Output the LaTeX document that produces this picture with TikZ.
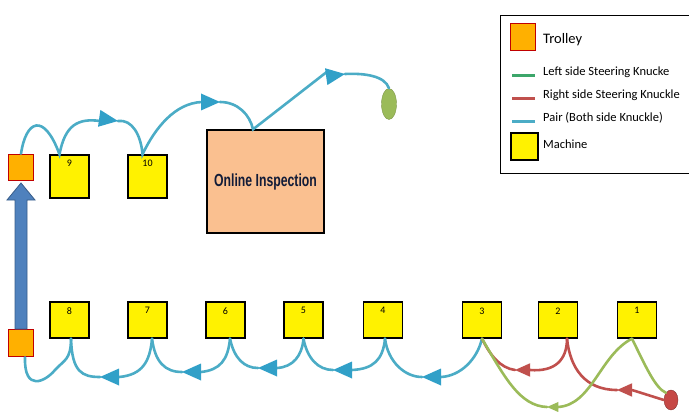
\documentclass[tikz,border=0pt]{standalone}
\usepackage{fontspec}
\setmainfont{Carlito}
\newfontfamily\inspfont{Liberation Sans}
\usetikzlibrary{shapes.geometric}
\definecolor{pairc}{HTML}{4BACC6}
\definecolor{pairarr}{HTML}{31A0C8}
\definecolor{rightc}{HTML}{C0504D}
\definecolor{leftc}{HTML}{9BBB59}
\definecolor{legleft}{HTML}{3CA66A}
\definecolor{trolfill}{HTML}{FFB000}
\definecolor{trolborder}{HTML}{C00000}
\definecolor{bigarrow}{HTML}{4F81BD}
\definecolor{bigarrowd}{HTML}{385D8A}
\definecolor{inspfill}{HTML}{FAC090}
\definecolor{insptext}{HTML}{121C38}
\tikzset{
  machine/.style={draw=black, line width=1.3pt, fill=yellow, minimum width=39pt, minimum height=#1, inner sep=0pt},
  mlabel/.style={font=\fontsize{10}{11}\selectfont, anchor=north, inner sep=2pt},
  trolley/.style={draw=trolborder, line width=1.6pt, fill=trolfill, minimum width=25pt, minimum height=26pt, inner sep=0pt},
  pairline/.style={draw=pairc, line width=2.6pt, line cap=round},
  rightline/.style={draw=rightc, line width=2.6pt, line cap=round},
  leftline/.style={draw=leftc, line width=2.6pt, line cap=round},
  pics/tri/.style={code={\fill[#1] (0,0) -- (-19,-8.5) -- (-19,8.5) -- cycle;}},
  legtext/.style={anchor=west, inner sep=0pt, font=\fontsize{12.5}{14}\selectfont},
}
\begin{document}
\begin{tikzpicture}[x=1pt, y=-1pt]
\useasboundingbox (0,0) rectangle (689,412);
\begin{scope}
\clip (0,0) rectangle (689,412);

% trolleys
\node[trolley] (ttop) at (21,167.5) {};
\node[trolley, minimum height=27pt] (tbot) at (21,343) {};
% big blue arrow
\filldraw[fill=bigarrow, draw=bigarrowd, line width=0.8pt]
  (15,329) -- (15,200) -- (7,200) -- (21,183) -- (35,200) -- (27,200) -- (27,329) -- cycle;

% machines bottom row
\node[machine=36pt] (m8) at (69.5,320) {};
\node[machine=36pt] (m7) at (147.5,320) {};
\node[machine=36pt] (m6) at (225.5,320) {};
\node[machine=36pt] (m5) at (303.5,320) {};
\node[machine=36pt] (m4) at (383,320) {};
\node[machine=36pt] (m3) at (482,320) {};
\node[machine=36pt] (m2) at (558,320) {};
\node[machine=36pt] (m1) at (637,320) {};
\foreach \m/\t in {m8/8,m7/7,m6/6,m5/5,m4/4,m3/3,m2/2,m1/1}
  \node[mlabel] at ([yshift=-4pt]\m.north) {\t};
% machines top row
\node[machine=43pt] (m9) at (69.5,176.5) {};
\node[machine=43pt] (m10) at (147.5,176.5) {};
\node[mlabel] at ([yshift=-3pt]m9.north) {9};
\node[mlabel] at ([yshift=-3pt]m10.north) {10};

% inspection
\node[draw=black, line width=1.3pt, fill=inspfill, minimum width=117pt, minimum height=103pt, inner sep=0pt] (insp) at (265.5,181.5)
  {\scalebox{0.7}[1]{\inspfont\bfseries\fontsize{17.5}{19}\selectfont\color{insptext}Online Inspection}};

% end ellipse
\node[ellipse, fill=leftc, draw=leftc!80!black, line width=0.4pt, minimum width=15pt, minimum height=31pt, inner sep=0pt] (endp) at (389,104) {};
% start circle
\node[ellipse, fill=rightc!90!red, draw=rightc!70!black, line width=0.4pt, minimum width=14pt, minimum height=20pt, inner sep=0pt] (startp) at (671,400) {};

% ---- top pair path ----
\coordinate (ta1) at (118,121);
\coordinate (ta2) at (220,102);
\coordinate (ta3) at (345,74);
\path[pairline] (ttop.north) .. controls (26,120) and (44,112) .. ([xshift=-10pt]m9.north)
  .. controls (65,125) and (78,118) .. ([xshift=-18pt]ta1);
\path[pairline] (ta1) .. controls (132,119) and (141,135) .. ([xshift=-5pt]m10.north)
  .. controls (155,128) and (175,103) .. ([xshift=-18pt]ta2);
\path[pairline] (ta2) .. controls (238,102) and (250,115) .. ([xshift=-12.5pt]insp.north)
  -- ([xshift=-17pt,yshift=3pt]ta3);
\path[pairline] (ta3) .. controls (365,73) and (385,76) .. (endp.north);
\pic[rotate=-8] at (ta1) {tri=pairarr};
\pic[rotate=0] at (ta2) {tri=pairarr};
\pic[rotate=8] at (ta3) {tri=pairarr};

% ---- bottom pair path ----
\coordinate (ba1) at (100,377);
\coordinate (ba2) at (182,372);
\coordinate (ba3) at (258,368);
\coordinate (ba4) at (333,370);
\coordinate (ba5) at (422,377);
\path[pairline] ([xshift=4pt]tbot.south) .. controls (24,392) and (45,382) .. (55,370)
  .. controls (64,360) and (71,360) .. ([xshift=1.5pt]m8.south);
\path[pairline] ([xshift=1.5pt]m8.south) .. controls (72,372) and (82,377) .. (ba1);
\path[pairline] ([xshift=19pt]ba1) .. controls (142,375) and (150,362) .. ([xshift=4.5pt]m7.south);
\path[pairline] ([xshift=4.5pt]m7.south) .. controls (155,362) and (165,372) .. (ba2);
\path[pairline] ([xshift=19pt]ba2) .. controls (220,370) and (228,360) .. ([xshift=4.5pt]m6.south);
\path[pairline] ([xshift=4.5pt]m6.south) .. controls (234,358) and (244,368) .. (ba3);
\path[pairline] ([xshift=19pt]ba3) .. controls (293,367) and (302,356) .. (m5.south);
\path[pairline] (m5.south) .. controls (307,358) and (318,370) .. (ba4);
\path[pairline] ([xshift=19pt]ba4) .. controls (373,369) and (383,360) .. ([xshift=2pt]m4.south);
\path[pairline] ([xshift=2pt]m4.south) .. controls (388,362) and (405,377) .. (ba5);
\path[pairline] ([xshift=19pt]ba5) .. controls (460,376) and (477,360) .. (m3.south);
\foreach \a in {ba1,ba2,ba3,ba4,ba5}
  \pic[rotate=180] at (\a) {tri=pairarr};

% ---- right side (red) ----
\coordinate (ra1) at (515,370);
\coordinate (ra2) at (617,390);
\path[rightline] (m3.south) .. controls (490,355) and (500,368) .. (ra1);
\path[rightline] ([xshift=15pt]ra1) .. controls (555,372) and (567,360) .. ([xshift=9pt]m2.south);
\path[rightline] ([xshift=9pt]m2.south) .. controls (570,368) and (585,390) .. (ra2);
\path[rightline] ([xshift=15pt]ra2) -- (startp.west);

% ---- left side (green) ----
\coordinate (ga1) at (547,407);
\path[leftline] ([xshift=-5pt]m1.south) .. controls (600,355) and (592,405) .. ([xshift=11pt]ga1);
\path[leftline] (ga1) .. controls (520,406) and (505,378) .. (m3.south);
\path[leftline] ([xshift=-5pt]m1.south) .. controls (645,365) and (655,388) .. (startp.north west);

\pic[rotate=180, scale=0.8] at (ra1) {tri=rightc};
\pic[rotate=180, scale=0.8] at (ra2) {tri=rightc};
\pic[rotate=180, scale=0.6] at (ga1) {tri=leftc};

% ---- legend ----
\node[draw=black, line width=1.4pt, fill=white, minimum width=200pt, minimum height=158pt, inner sep=0pt, anchor=north west] (legend) at (500,15) {};
\node[trolley, minimum width=25pt, minimum height=27pt] (lgtrol) at (523,37) {};
\node[legtext, font=\fontsize{14.5}{16}\selectfont] at (543,40) {Trolley};
\node[legtext] (lgl) at (543,72) {Left side Steering Knucke};
\node[legtext] (lgr) at (543,95) {Right side Steering Knuckle};
\node[legtext] (lgp) at (543,118) {Pair (Both side Knuckle)};
\draw[legleft, line width=3pt] (512,76) -- (535,76);
\draw[rightc, line width=3pt] (512,99) -- (535,99);
\draw[pairc, line width=3pt] (512,122) -- (535,122);
\node[machine=27pt, minimum width=27pt] (lgmach) at (524.5,146.5) {};
\node[legtext] at (543,144) {Machine};
\end{scope}
\end{tikzpicture}
\end{document}
